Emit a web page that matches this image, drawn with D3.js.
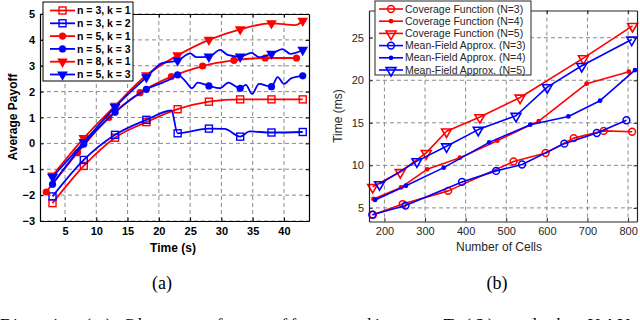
<!DOCTYPE html>
<html>
<head>
<meta charset="utf-8">
<script src="https://cdn.jsdelivr.net/npm/d3@7"></script>
<style>
  body { margin: 0; background: #fff; }
  svg { display: block; }
</style>
</head>
<body>
<svg id="fig" width="640" height="320"></svg>
<script>
// ---- panel (a): average payoff vs time ----
const ticksA_x = [5, 10, 15, 20, 25, 30, 35, 40]
const ticksA_y = [-3, -2, -1, 0, 1, 2, 3, 4, 5]
const markT_a = [3, 8, 13, 18, 23, 28, 33, 38, 43]

const n3k1_t = [3, 8, 13, 18, 23, 28, 33, 38, 43]
const n3k1_v = [-2.31, -0.87, 0.22, 0.82, 1.32, 1.61, 1.70, 1.70, 1.70]
const n3k2_t = [3, 8, 13, 18, 22, 23, 28, 30.5, 33, 34.5, 38, 43]
const n3k2_v = [-2.05, -0.64, 0.33, 0.91, 1.27, 0.39, 0.57, 0.56, 0.26, 0.46, 0.42, 0.44]
const n5k1_t = [2, 7, 12, 17, 22, 27, 32, 37, 42]
const n5k1_v = [-1.88, -0.36, 1.0, 1.96, 2.58, 2.99, 3.21, 3.30, 3.30]
const n5k3_t = [3, 8, 13, 18, 21.8, 23, 24.3, 25.3, 26.2, 28, 29.8, 31.1, 33, 33.9, 34.9, 36, 38, 39, 40, 41.2, 43]
const n5k3_v = [-1.58, -0.02, 1.2, 2.09, 2.48, 2.65, 2.39, 2.13, 2.35, 2.22, 2.13, 2.35, 2.13, 2.26, 1.91, 2.30, 2.19, 2.56, 2.30, 2.52, 2.61]
const n8k1_t = [3, 8, 13, 18, 23, 28, 33, 38, 41.8, 43]
const n8k1_v = [-1.25, 0.2, 1.45, 2.63, 3.4, 4.0, 4.41, 4.64, 4.57, 4.74]
const n5k3b_t = [3, 8, 13, 18, 20.5, 23, 25, 26, 28, 29.8, 31, 33, 34.8, 36, 38, 39.8, 41, 43]
const n5k3b_v = [-1.3, 0.05, 1.4, 2.55, 3.1, 3.2, 3.48, 3.33, 3.35, 3.61, 3.42, 3.35, 3.5, 3.33, 3.46, 3.64, 3.46, 3.61]

// ---- panel (b): time vs number of cells ----
const ticksB_x = [200, 300, 400, 500, 600, 700, 800]
const ticksB_y = [5, 10, 15, 20, 25]

const cov3_n = [172, 245, 357, 518, 597, 666, 740, 810]
const cov3_ms = [4.2, 5.45, 7.0, 10.45, 11.45, 13.2, 14.05, 13.95]
const cov4_n = [173, 241, 305, 386, 478, 580, 698, 802]
const cov4_ms = [6.05, 7.4, 9.53, 10.9, 12.9, 15.2, 19.6, 21.0]
const cov5_n = [171, 239, 303, 353, 435, 534, 690, 811]
const cov5_ms = [7.48, 9.22, 11.47, 14.0, 15.68, 17.98, 22.6, 26.4]
const mf3_n = [170, 252, 391, 475, 539, 643, 723, 796]
const mf3_ms = [4.2, 5.27, 8.05, 9.35, 10.1, 12.55, 13.8, 15.3]
const mf4_n = [177, 253, 346, 458, 559, 653, 731, 817]
const mf4_ms = [5.93, 7.6, 9.73, 12.7, 14.78, 15.75, 17.6, 21.2]
const mf5_n = [188, 280, 353, 431, 524, 601, 686, 809]
const mf5_ms = [7.8, 10.5, 12.25, 14.2, 15.83, 19.2, 21.7, 24.8]

const RED = '#ff0000', BLUE = '#0000ff'

const seriesA = [
  {name: 'n = 3, k = 1', t: n3k1_t, v: n3k1_v, color: RED, mark: 'square', at: markT_a},
  {name: 'n = 3, k = 2', t: n3k2_t, v: n3k2_v, color: BLUE, mark: 'square', at: markT_a},
  {name: 'n = 5, k = 1', t: n5k1_t, v: n5k1_v, color: RED, mark: 'dot', at: n5k1_t},
  {name: 'n = 5, k = 3', t: n5k3_t, v: n5k3_v, color: BLUE, mark: 'dot', at: markT_a},
  {name: 'n = 8, k = 1', t: n8k1_t, v: n8k1_v, color: RED, mark: 'tri', at: markT_a},
  {name: 'n = 5, k = 3', t: n5k3b_t, v: n5k3b_v, color: BLUE, mark: 'tri', at: markT_a}
]

const seriesB = [
  {name: 'Coverage Function (N=3)', t: cov3_n, v: cov3_ms, color: RED, mark: 'circle'},
  {name: 'Coverage Function (N=4)', t: cov4_n, v: cov4_ms, color: RED, mark: 'small'},
  {name: 'Coverage Function (N=5)', t: cov5_n, v: cov5_ms, color: RED, mark: 'triOpen'},
  {name: 'Mean-Field Approx. (N=3)', t: mf3_n, v: mf3_ms, color: BLUE, mark: 'circle'},
  {name: 'Mean-Field Approx. (N=4)', t: mf4_n, v: mf4_ms, color: BLUE, mark: 'small'},
  {name: 'Mean-Field Approx. (N=5)', t: mf5_n, v: mf5_ms, color: BLUE, mark: 'triOpen'}
]

const svg = d3.select('#fig')

const drawMark = (g, kind, x, y, color) => {
  if (kind === 'square') {
    g.append('rect').attr('x', x - 3.5).attr('y', y - 3.5).attr('width', 7).attr('height', 7)
      .attr('fill', 'none').attr('stroke', color).attr('stroke-width', 1.4)
  } else if (kind === 'dot') {
    g.append('circle').attr('cx', x).attr('cy', y).attr('r', 3.6).attr('fill', color)
  } else if (kind === 'small') {
    g.append('circle').attr('cx', x).attr('cy', y).attr('r', 2.4).attr('fill', color)
  } else if (kind === 'circle') {
    g.append('circle').attr('cx', x).attr('cy', y).attr('r', 3.4)
      .attr('fill', 'none').attr('stroke', color).attr('stroke-width', 1.5)
  } else if (kind === 'tri') {
    g.append('path').attr('d', d3.symbol(d3.symbolTriangle, 50)())
      .attr('transform', `translate(${x},${y}) rotate(180)`).attr('fill', color)
  } else if (kind === 'triOpen') {
    g.append('path').attr('d', d3.symbol(d3.symbolTriangle, 42)())
      .attr('transform', `translate(${x},${y + 0.5}) rotate(180)`)
      .attr('fill', 'none').attr('stroke', color).attr('stroke-width', 1.6)
  }
}

function panel(cfg) {
  const {x, y, series, xt, yt, font, bold, txt, curve, lw} = cfg
  const [x0, x1] = x.range(), [y0, y1] = y.range()
  const g = svg.append('g')

  // dashed grid
  g.append('g').selectAll('line').data(xt).join('line')
    .attr('x1', d => x(d)).attr('x2', d => x(d)).attr('y1', y1).attr('y2', y0)
    .attr('stroke', '#8a8a8a').attr('stroke-dasharray', '4,3').attr('stroke-width', 1)
  g.append('g').selectAll('line').data(yt).join('line')
    .attr('y1', d => y(d)).attr('y2', d => y(d)).attr('x1', x0).attr('x2', x1)
    .attr('stroke', '#8a8a8a').attr('stroke-dasharray', '4,3').attr('stroke-width', 1)

  // series
  const line = d3.line().x(d => x(d[0])).y(d => y(d[1])).curve(curve)
  series.forEach(s => {
    const pts = s.t.map((t, i) => [t, s.v[i]])
    g.append('path').attr('d', line(pts)).attr('fill', 'none')
      .attr('stroke', s.color).attr('stroke-width', lw).attr('stroke-linejoin', 'round')
    const mg = g.append('g')
    pts.filter(p => !s.at || s.at.includes(p[0]))
      .forEach(p => drawMark(mg, s.mark, x(p[0]), y(p[1]), s.color))
  })

  // axes, ticks inward on all four sides
  const tk = 3.5
  const ax = (gen, tr) => g.append('g').attr('transform', tr).call(gen)
    .call(a => a.select('.domain').attr('stroke', txt).attr('stroke-width', 1.2))
    .call(a => a.selectAll('.tick line').attr('stroke', txt).attr('stroke-width', 1))
    .call(a => a.selectAll('text').attr('fill', txt).style('font', `${bold ? 'bold ' : ''}${font}px ${cfg.family}`))
  ax(d3.axisBottom(x).tickValues(xt).tickSize(-tk).tickSizeOuter(0).tickPadding(6), `translate(0,${y0})`)
  ax(d3.axisTop(x).tickValues(xt).tickSize(-tk).tickSizeOuter(0).tickFormat(''), `translate(0,${y1})`)
  ax(d3.axisLeft(y).tickValues(yt).tickSize(-tk).tickSizeOuter(0).tickPadding(5), `translate(${x0},0)`)
  ax(d3.axisRight(y).tickValues(yt).tickSize(-tk).tickSizeOuter(0).tickFormat(''), `translate(${x1},0)`)

  // axis titles
  g.append('text').attr('x', cfg.xlab[1]).attr('y', cfg.xlab[2]).attr('text-anchor', 'middle')
    .attr('fill', txt).style('font', `${bold ? 'bold ' : ''}${font + 1}px ${cfg.family}`).text(cfg.xlab[0])
  g.append('text').attr('transform', `translate(${cfg.ylab[1]},${cfg.ylab[2]}) rotate(-90)`)
    .attr('text-anchor', 'middle').attr('fill', txt)
    .style('font', `${bold ? 'bold ' : ''}${font + 1}px ${cfg.family}`).text(cfg.ylab[0])

  // legend
  const L = cfg.legend
  const lg = g.append('g')
  lg.append('rect').attr('x', L.x).attr('y', L.y).attr('width', L.w).attr('height', L.h)
    .attr('fill', '#fff').attr('stroke', txt).attr('stroke-width', 1)
  series.forEach((s, i) => {
    const ry = L.y + L.first + i * L.step
    lg.append('line').attr('x1', L.lx0).attr('x2', L.lx1).attr('y1', ry).attr('y2', ry)
      .attr('stroke', s.color).attr('stroke-width', lw)
    drawMark(lg, s.mark, (L.lx0 + L.lx1) / 2, ry, s.color)
    lg.append('text').attr('x', L.tx).attr('y', ry).attr('dy', '0.35em').attr('fill', txt)
      .style('font', `${bold ? 'bold ' : ''}${L.font}px ${cfg.family}`).text(s.name)
  })
}

panel({
  x: d3.scaleLinear().domain([1, 44]).range([40, 309]),
  y: d3.scaleLinear().domain([-3, 5]).range([221, 14]),
  series: seriesA, xt: ticksA_x, yt: ticksA_y,
  font: 11, bold: true, txt: '#000', family: 'Arial, "Liberation Sans", sans-serif',
  curve: d3.curveMonotoneX, lw: 1.8,
  xlab: ['Time (s)', 173, 252], ylab: ['Average Payoff', 17, 117],
  legend: {x: 43, y: 2, w: 90, h: 79, first: 8.5, step: 12.8, lx0: 50, lx1: 75, tx: 77, font: 10.5}
})

panel({
  x: d3.scaleLinear().domain([162, 822]).range([369, 637]),
  y: d3.scaleLinear().domain([3.4, 28.2]).range([221.5, 10.5]),
  series: seriesB, xt: ticksB_x, yt: ticksB_y,
  font: 11, bold: false, txt: '#262626', family: 'Arial, "Liberation Sans", sans-serif',
  curve: d3.curveLinear, lw: 1.6,
  xlab: ['Number of Cells', 499, 251], ylab: ['Time (ms)', 342, 116],
  legend: {x: 375, y: 1, w: 156, h: 74, first: 8, step: 12.2, lx0: 379, lx1: 403, tx: 405, font: 10.5}
})

// sub-figure captions
svg.append('text').attr('x', 162).attr('y', 289).attr('text-anchor', 'middle')
  .style('font', '18px "Liberation Serif", "Times New Roman", serif').text('(a)')
svg.append('text').attr('x', 497).attr('y', 289).attr('text-anchor', 'middle')
  .style('font', '18px "Liberation Serif", "Times New Roman", serif').text('(b)')
svg.append('text').attr('x', 0).attr('y', 330).attr('xml:space', 'preserve')
  .attr('textLength', 640).attr('lengthAdjust', 'spacing')
  .style('font', '17px "Liberation Serif", "Times New Roman", serif')
  .text('Fig. 4.  (a) Change of payoff according to T (S) and the UAVs')
</script>
</body>
</html>
